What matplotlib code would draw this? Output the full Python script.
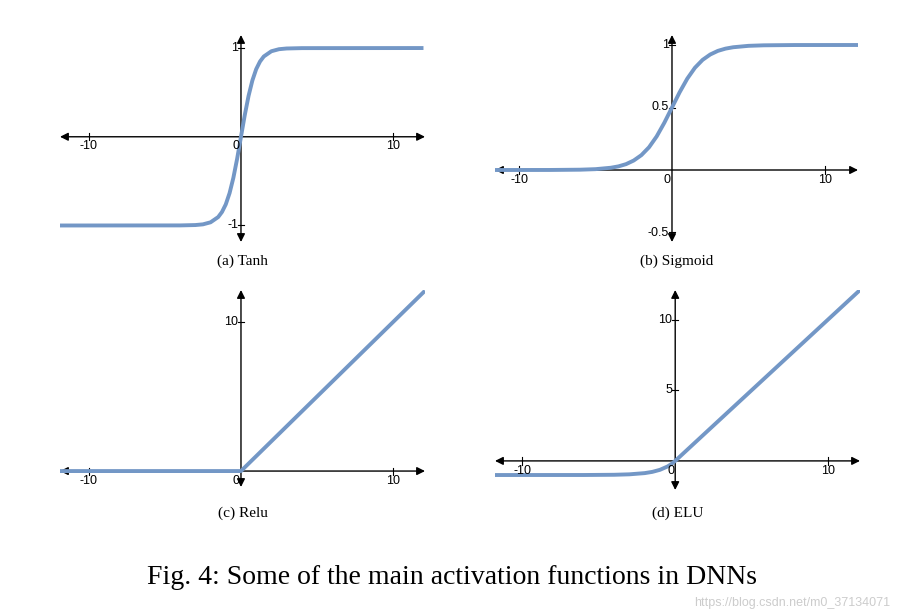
import matplotlib
matplotlib.use("Agg")
import matplotlib.pyplot as plt

W, H = 904, 616

# values
TANH_X = [-12, -4, -3, -2.5, -2, -1.5, -1.25, -1, -0.75, -0.5, -0.25, 0,
          0.25, 0.5, 0.75, 1, 1.25, 1.5, 2, 2.5, 3, 4, 12]
TANH_Y = [-1, -0.999, -0.995, -0.987, -0.964, -0.905, -0.848, -0.762, -0.635, -0.462, -0.245, 0,
          0.245, 0.462, 0.635, 0.762, 0.848, 0.905, 0.964, 0.987, 0.995, 0.999, 1]
SIG_X = [-11.6, -8, -6, -5, -4, -3.5, -3, -2.5, -2, -1.5, -1, -0.5, 0,
         0.5, 1, 1.5, 2, 2.5, 3, 3.5, 4, 5, 6, 8, 12.2]
SIG_Y = [0, 0.0003, 0.0025, 0.0067, 0.018, 0.029, 0.047, 0.076, 0.119, 0.182, 0.269, 0.378, 0.5,
         0.622, 0.731, 0.818, 0.881, 0.924, 0.953, 0.971, 0.982, 0.9933, 0.9975, 0.9997, 1]
RELU_X = [-12, 0, 12.1]
RELU_Y = [0, 0, 12.1]
ELU_X = [-11.8, -6, -4, -3, -2, -1.5, -1, -0.5, -0.25, 0, 12.1]
ELU_Y = [-1, -0.998, -0.982, -0.95, -0.865, -0.777, -0.632, -0.393, -0.221, 0, 12.1]

# (title, x, y, px box l/t/r/b, xlim, ylim, xticks, yticks, caption y px)
PANELS = [
    ("(a) Tanh", TANH_X, TANH_Y, (60, 35, 425, 242), (-11.9, 12.1), (-1.186, 1.147), [-10, 10], [1, -1], 261),
    ("(b) Sigmoid", SIG_X, SIG_Y, (495, 35, 858, 242), (-11.57, 12.16), (-0.576, 1.08), [-10, 10], [1, 0.5, -0.5], 261),
    ("(c) Relu", RELU_X, RELU_Y, (60, 290, 425, 487), (-11.9, 12.1), (-1.07, 12.15), [-10, 10], [10], 513),
    ("(d) ELU", ELU_X, ELU_Y, (495, 290, 860, 490), (-11.8, 12.1), (-2.06, 12.1), [-10, 10], [10, 5], 513),
]

fig = plt.figure(figsize=(W / 100, H / 100), dpi=100)
sans = ["Liberation Sans", "DejaVu Sans"]
serif = ["Liberation Serif", "DejaVu Serif"]

for title, xs, ys, (l, t, r, b), xl, yl, xt, yt, cy in PANELS:
    ax = fig.add_axes([l / W, 1 - b / H, (r - l) / W, (b - t) / H])
    ax.set_xlim(*xl)
    ax.set_ylim(*yl)
    ax.axis("off")
    arrow = dict(arrowstyle="<|-|>", color="black", lw=1.0, mutation_scale=12, shrinkA=0, shrinkB=0)
    ax.annotate("", xy=(xl[1], 0), xytext=(xl[0], 0), arrowprops=arrow)
    ax.annotate("", xy=(0, yl[1]), xytext=(0, yl[0]), arrowprops=arrow)
    ax.plot(xs, ys, color="#7397c6", lw=2.8, solid_capstyle="butt", zorder=3)
    dy = (yl[1] - yl[0]) * 0.018
    dx = (xl[1] - xl[0]) * 0.008
    for v in xt:
        ax.plot([v, v], [-dy, dy], color="black", lw=0.8)
        ax.text(v, -dy, str(v), ha="center", va="top", fontsize=9, family=sans)
    ax.text(-0.3, -dy, "0", ha="center", va="top", fontsize=9, family=sans)
    for v in yt:
        ax.plot([-dx, dx], [v, v], color="black", lw=0.8)
        ax.text(-dx, v, f"{v:g}", ha="right", va="center", fontsize=9, family=sans)
    fig.text((l + r) / 2 / W, 1 - cy / H, title, ha="center", va="center",
             fontsize=11, family=serif)

fig.text(0.5, 1 - 578 / H, "Fig. 4: Some of the main activation functions in DNNs",
         ha="center", va="center", fontsize=20, family=serif)
fig.text(0.985, 0.012, "https://blog.csdn.net/m0_37134071", ha="right", va="bottom",
         fontsize=9, color="#cccccc", family=sans)

fig.savefig("out.png", dpi=100)
